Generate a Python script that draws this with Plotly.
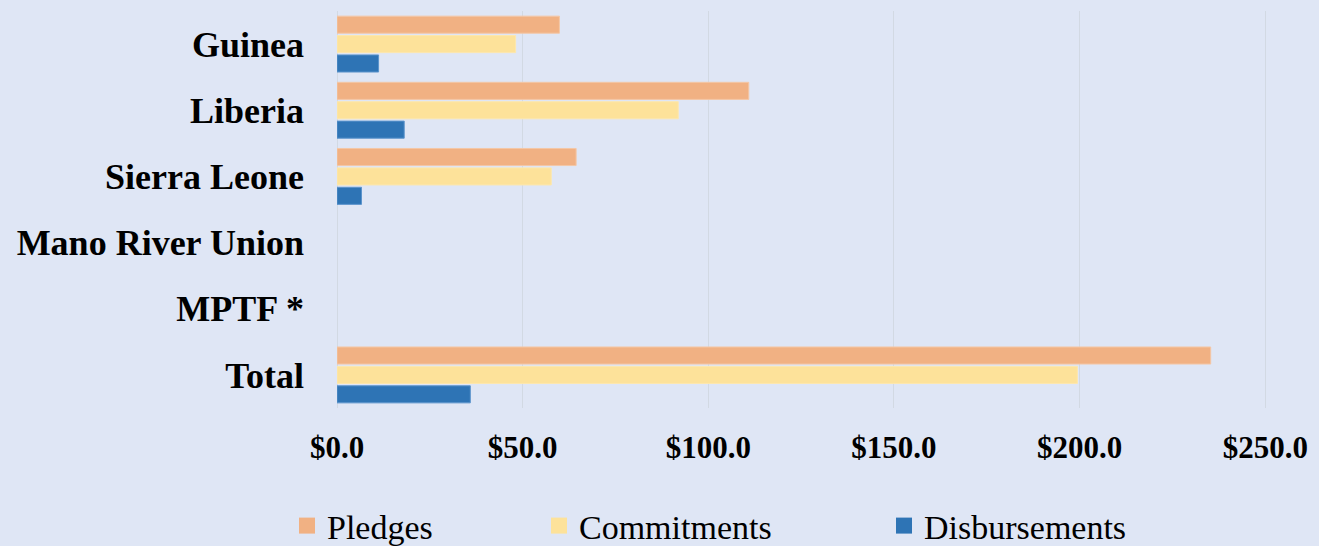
import plotly.graph_objects as go

categories = ["Guinea", "Liberia", "Sierra Leone", "Mano River Union", "MPTF *", "Total"]
pledges = [59.9, 110.9, 64.4, None, None, 235.3]
commitments = [48.1, 91.9, 57.7, None, None, 199.4]
disbursements = [11.2, 18.1, 6.6, None, None, 35.9]
series_names = ["Pledges", "Commitments", "Disbursements"]
tick_values = [0, 50, 100, 150, 200, 250]
tick_labels = ["$0.0", "$50.0", "$100.0", "$150.0", "$200.0", "$250.0"]
colors = ["#F1B183", "#FDE29A", "#2E74B5"]
edge_colors = ["#F4C7A6", "#FDE7AE", "#5C94CC"]

FONT = "Liberation Serif"
W, H = 1319, 546

fig = go.Figure()
for name, vals, c, ec in zip(series_names, [pledges, commitments, disbursements], colors, edge_colors):
    fig.add_trace(go.Bar(
        y=categories, x=vals, orientation="h", name=name,
        marker=dict(color=c, line=dict(color=ec, width=1)),
        showlegend=False,
    ))

# legend entries (one legend each so they can be placed like the original)
legend_ids = ["legend", "legend2", "legend3"]
legend_marker_px = [307, 559, 904]
for name, c, lid in zip(series_names, colors, legend_ids):
    fig.add_trace(go.Scatter(
        x=[None], y=[None], mode="markers", name=name,
        marker=dict(symbol="square", size=16, color=c),
        legend=lid, showlegend=True,
    ))

legend_style = dict(
    orientation="h", xref="container", yref="container",
    xanchor="left", yanchor="middle", y=1 - 526 / H,
    font=dict(family=FONT, size=34, color="black"),
    bgcolor="rgba(0,0,0,0)", itemsizing="trace",
)
layout_legends = {}
for lid, px in zip(legend_ids, legend_marker_px):
    layout_legends[lid] = dict(legend_style, x=(px - 20) / W)

fig.update_layout(
    width=W, height=H,
    paper_bgcolor="#DFE6F5", plot_bgcolor="#DFE6F5",
    margin=dict(l=337, r=44, t=11, b=138),
    barmode="group", bargap=0.12, bargroupgap=0.12,
    hovermode=False,
    xaxis=dict(
        range=[0, 251], tickvals=tick_values, ticktext=tick_labels,
        showgrid=True, gridcolor="#D2D9E3", gridwidth=1.3,
        zeroline=True, zerolinecolor="#D2D9E3", zerolinewidth=1.3,
        showline=False, ticks="",
        tickfont=dict(family=FONT, size=31, color="black", weight="bold"),
        ticklabelstandoff=18,
    ),
    yaxis=dict(
        autorange="reversed", showgrid=False, zeroline=False, showline=False,
        ticks="",
        tickfont=dict(family=FONT, size=36, color="black", weight="bold"),
        ticklabelstandoff=32,
    ),
    **layout_legends,
)

fig.write_html(
    "out.html",
    config={"displayModeBar": False},
    post_script="document.body.style.margin='0';document.body.style.background='#DFE6F5';",
)
